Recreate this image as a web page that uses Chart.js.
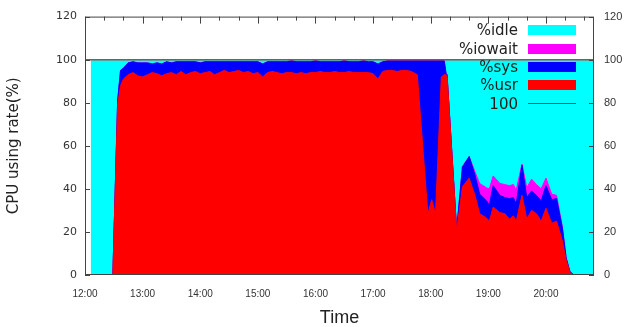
<!DOCTYPE html>
<html>
<head>
<meta charset="utf-8">
<script src="https://cdn.jsdelivr.net/npm/chart.js@4.4.0/dist/chart.umd.min.js"></script>
<style>
    body { margin: 0; background: #fff; }
    #contenedor { position: relative; width: 626px; height: 327px; }
    #leyenda { position: absolute; left: 376px; top: 21px; width: 200px; font-family: "DejaVu Sans", sans-serif; font-size: 15px; color: #222; }
    .fila { display: flex; justify-content: flex-end; align-items: center; height: 18.4px; }
    .muestra { width: 48px; height: 10px; margin-left: 10px; }
</style>
</head>
<body>
<div id="contenedor">
    <canvas id="myChart" width="626" height="327"></canvas>
    <div id="leyenda"></div>
</div>
<script>
// minutos desde las 12:00
const tiempos = [6, 29, 34, 37, 40, 45, 50, 55, 60, 65,
    70, 75, 80, 85, 90, 95, 100, 105, 110, 115,
    120, 125, 130, 135, 140, 145, 150, 155, 160, 165,
    170, 175, 180, 185, 190, 195, 200, 205, 210, 215,
    220, 225, 230, 235, 240, 245, 250, 255, 260, 265,
    270, 275, 280, 285, 290, 295, 300, 305, 310, 315,
    320, 325, 330, 335, 340, 346, 357, 361, 365, 371,
    374, 376, 377, 387, 393, 400, 406, 411, 418, 421,
    425, 432, 437, 442, 446, 449, 455, 460, 465, 470,
    475, 480, 486, 491, 497, 501, 505, 509, 530];

const usr = [0, 0, 79, 88, 91, 93, 94, 92.5, 92, 93,
    94, 93.5, 92.5, 93.5, 94, 93, 94.5, 93, 94, 94.5,
    93.5, 94, 94.5, 93, 94, 95, 94, 94.5, 95, 94,
    94.5, 93.5, 94, 92, 94, 94.5, 94, 93.5, 94, 94,
    93.5, 94, 93.5, 94, 94, 94.5, 94, 94, 94.5, 94,
    94, 94.5, 94, 94, 94, 94, 93.5, 91, 94.5, 95,
    95, 94.5, 95, 95, 94.5, 93, 28.5, 35, 28.5, 92,
    93, 93, 92.5, 20.5, 41, 45, 37, 28.5, 26.5, 25,
    31.5, 29, 28.5, 26, 27.5, 25, 37, 26, 30, 28.5,
    25, 31, 24, 25, 16, 7, 1, 0, 0];

const sys = [0, 0, 2, 7, 5, 5.5, 5, 6, 6.5, 5.5,
    4, 5, 5.5, 5.5, 4.5, 6, 4.5, 6, 5, 4.5,
    5, 5, 4.5, 6, 5, 4, 5, 4.5, 4, 5,
    4.5, 5.5, 5, 6, 5, 4.5, 5, 5.5, 5, 5.5,
    5.5, 5, 5.5, 5, 5.5, 4.5, 5, 5, 4.5, 5,
    5.5, 4.5, 5, 5, 5.5, 5, 5.5, 7, 4.5, 4.5,
    4.5, 5, 4.5, 4.5, 5, 6.5, 71, 64.5, 71, 7.5,
    6.5, 0.5, 0.5, 0.5, 9, 10, 9.5, 9, 8, 7.5,
    10, 8, 7.5, 9.5, 8.5, 8, 14, 10, 9, 8.5,
    9.5, 10.5, 11, 10.5, 6, 1, 0.5, 0, 0];

const iowait = [0, 0, 0, 0, 0, 0, 0, 0, 0, 0,
    0, 0, 0, 0, 0, 0, 0, 0, 0, 0,
    0, 0, 0, 0, 0, 0, 0, 0, 0, 0,
    0, 0, 0, 0, 0, 0, 0, 0, 0, 0,
    0, 0, 0, 0, 0, 0, 0, 0, 0, 0,
    0, 0, 0, 0, 0, 0, 0, 0, 0, 0,
    0, 0, 0, 0, 0, 0, 0, 0, 0, 0,
    0, 0, 0, 0, 0.5, 0, 1.5, 5, 6, 7.5,
    4.5, 5.5, 6, 6, 6, 6.5, 0.5, 4.5, 5.5, 5,
    5.5, 3.5, 2.5, 1.5, 0.5, 0, 0, 0, 0];

const idle = [100, 100, 19, 5, 4, 1.5, 1, 1.5, 1.5, 1.5,
    2, 1.5, 2, 1, 1.5, 1, 1, 1, 1, 1,
    1.5, 1, 1, 1, 1, 1, 1, 1, 1, 1,
    1, 1, 1, 2, 1, 1, 1, 1, 1, 0.5,
    1, 1, 1, 1, 0.5, 1, 1, 1, 1, 1,
    0.5, 1, 1, 1, 0.5, 1, 1, 2, 1, 0.5,
    0.5, 0.5, 0.5, 0.5, 0.5, 0.5, 0.5, 0.5, 0.5, 0.5,
    0.5, 6.5, 7, 79, 49.5, 45, 52, 57.5, 59.5, 60,
    54, 57.5, 58, 58.5, 58, 60.5, 48.5, 59.5, 55.5, 58,
    60, 55, 62.5, 63, 77.5, 92, 98.5, 100, 100];

const tiemposLinea = [0, 530];
const linea100 = [100, 100];

const horas = ["12:00", "13:00", "14:00", "15:00", "16:00", "17:00", "18:00", "19:00", "20:00"];
const nombres = ["%usr", "%sys", "%iowait", "%idle"];
const colores = ["#ff0000", "#0000ff", "#ff00ff", "#00ffff"];
const colorLinea = "#b0483e";

const xMax = 530;

const serie = (nombre, valores, color) => ({
    label: nombre,
    data: tiempos.map((t, i) => ({ x: t, y: valores[i] })),
    backgroundColor: color,
    borderColor: color,
    borderWidth: 1,
    fill: 'origin',
    pointRadius: 0,
    tension: 0,
    yAxisID: 'y',
    order: 0
});

const datasets = [
    serie(nombres[0], usr, colores[0]),
    serie(nombres[1], sys, colores[1]),
    serie(nombres[2], iowait, colores[2]),
    serie(nombres[3], idle, colores[3]),
    {
        label: "100",
        data: tiemposLinea.map((t, i) => ({ x: t, y: linea100[i] })),
        borderColor: colorLinea,
        borderWidth: 1.5,
        fill: false,
        pointRadius: 0,
        yAxisID: 'y2',
        order: -1
    }
];

// marcas hacia adentro y el marco del grafico
const marcas = {
    id: 'marcas',
    afterDatasetsDraw(chart) {
        const { ctx, chartArea: a, scales } = chart;
        ctx.save();
        ctx.strokeStyle = '#444';
        ctx.lineWidth = 1;
        ctx.strokeRect(a.left + 0.5, a.top + 0.5, a.right - a.left - 1, a.bottom - a.top - 1);
        ctx.beginPath();
        scales.y.ticks.forEach(t => {
            const py = Math.round(scales.y.getPixelForValue(t.value)) + 0.5;
            ctx.moveTo(a.left, py);
            ctx.lineTo(a.left + 5, py);
            ctx.moveTo(a.right, py);
            ctx.lineTo(a.right - 5, py);
        });
        for (let m = 0; m <= xMax; m += 20) {
            const px = Math.round(scales.x.getPixelForValue(m)) + 0.5;
            const largo = m % 60 === 0 ? 7 : 4;
            ctx.moveTo(px, a.top);
            ctx.lineTo(px, a.top + largo);
        }
        ctx.stroke();
        ctx.restore();
    }
};

const options = {
    responsive: false,
    animation: false,
    layout: { padding: { top: 14, left: 0, right: 0, bottom: 0 } },
    plugins: {
        legend: { display: false },
        tooltip: { enabled: false }
    },
    scales: {
        x: {
            type: 'linear',
            min: 0,
            max: xMax,
            grid: { display: false, drawTicks: false },
            border: { display: false },
            ticks: {
                stepSize: 60,
                autoSkip: false,
                maxRotation: 0,
                includeBounds: false,
                padding: 13,
                color: '#333',
                font: { family: 'Liberation Sans', size: 10 },
                callback: (v) => horas[v / 60]
            },
            title: {
                display: true,
                text: 'Time',
                color: '#222',
                font: { family: 'Liberation Sans', size: 18, lineHeight: 1 },
                padding: { top: 0, bottom: 0 }
            },
            afterFit: (s) => { s.height = 52; }
        },
        y: {
            stacked: true,
            position: 'left',
            min: 0,
            max: 120,
            grid: { display: false, drawTicks: false },
            border: { display: false },
            ticks: {
                stepSize: 20,
                padding: 8,
                color: '#333',
                font: { family: 'DejaVu Sans', size: 11 }
            },
            title: {
                display: true,
                text: 'CPU using rate(%)',
                color: '#222',
                font: { family: 'DejaVu Sans', size: 15 },
                padding: { top: 5.5, bottom: 0 }
            },
            afterFit: (s) => { s.width = 85; }
        },
        y2: {
            position: 'right',
            min: 0,
            max: 120,
            grid: { display: false, drawTicks: false },
            border: { display: false },
            ticks: {
                stepSize: 20,
                padding: 10,
                color: '#333',
                font: { family: "'Liberation Sans Narrow', 'Liberation Sans'", size: 11 }
            },
            afterFit: (s) => { s.width = 32; }
        }
    }
};

const ctx = document.getElementById("myChart").getContext("2d");
const myChart = new Chart(ctx, {
    type: "line",
    data: { datasets: datasets },
    options: options,
    plugins: [marcas]
});

// leyenda dentro del grafico, como en gnuplot
const leyenda = document.getElementById("leyenda");
const ordenLeyenda = [3, 2, 1, 0, 4];
ordenLeyenda.forEach(i => {
    const ds = datasets[i];
    const fila = document.createElement('div');
    fila.classList.add('fila');
    const texto = document.createElement('span');
    texto.textContent = ds.label;
    fila.appendChild(texto);
    const muestra = document.createElement('span');
    muestra.classList.add('muestra');
    if (ds.fill) {
        muestra.style.background = ds.backgroundColor;
    } else {
        muestra.style.height = '1px';
        muestra.style.background = '#3a4f4f';
    }
    fila.appendChild(muestra);
    leyenda.appendChild(fila);
});
</script>
</body>
</html>
